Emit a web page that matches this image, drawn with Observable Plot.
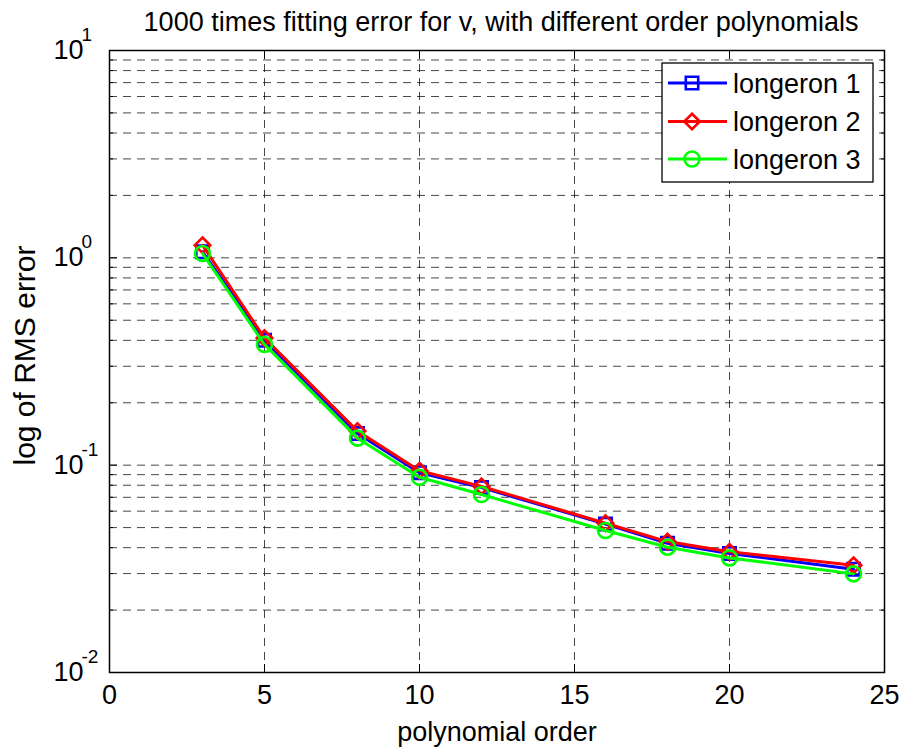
<!DOCTYPE html>
<html><head><meta charset="utf-8">
<script src="https://cdn.jsdelivr.net/npm/d3@7"></script>
<script src="https://cdn.jsdelivr.net/npm/@observablehq/plot@0.6"></script>
<style>
body{margin:0;background:#fff;}
#chart{position:relative;width:906px;height:751px;}
#legend{position:absolute;left:0;top:0;}
</style></head><body><div id="chart"></div>
<script>
// ---- data ----
const orders = [3, 5, 8, 10, 12, 16, 18, 20, 24];
const longeron1 = [1.07, 0.40, 0.142, 0.092, 0.078, 0.052, 0.042, 0.0375, 0.0315];
const longeron2 = [1.15, 0.41, 0.146, 0.094, 0.079, 0.0525, 0.0428, 0.0382, 0.0329];
const longeron3 = [1.05, 0.382, 0.135, 0.0874, 0.0722, 0.0484, 0.0402, 0.0357, 0.0299];
const seriesNames = ["longeron 1", "longeron 2", "longeron 3"];
const seriesColors = ["#0000ff", "#ff0000", "#00ff00"];
const seriesSymbols = ["square", "diamond2", "circle"];
const xTicks = [0, 5, 10, 15, 20, 25];
const xGrid = [5, 10, 15, 20];
const yMajor = [0.01, 0.1, 1, 10];
const yExponents = ["-2", "-1", "0", "1"];
const mantissas = [2, 3, 4, 5, 6, 7, 8, 9];
const titleText = "1000 times fitting error for v, with different order polynomials";
const xLabel = "polynomial order";
const yLabel = "log of RMS error";

const yMinor = [0.01, 0.1, 1].flatMap(d => mantissas.map(m => m * d));
const yGrid = yMajor.slice(1, 3).concat(yMinor);
const seriesValues = [longeron1, longeron2, longeron3];
const rows = seriesValues.map((vals, s) => orders.map((o, i) => ({order: o, rms: vals[i], series: seriesNames[s]})));

const font = "'Liberation Sans', Arial, Helvetica, sans-serif";
const fs = 27;
const gridStyle = {stroke: "#000", strokeOpacity: 0.72, strokeWidth: 1, strokeDasharray: "8,6"};

const seriesMarks = rows.flatMap((r, s) => [
  Plot.line(r, {x: "order", y: "rms", stroke: seriesColors[s], strokeWidth: 3}),
  Plot.dot(r, {x: "order", y: "rms", stroke: seriesColors[s], symbol: seriesSymbols[s], r: s === 2 ? 7.5 : 7, strokeWidth: 2.6, fill: "none"})
]);

const chart = Plot.plot({
  width: 906, height: 751,
  marginTop: 50, marginLeft: 109, marginRight: 22, marginBottom: 79,
  style: {fontFamily: font, fontSize: fs + "px", color: "#000", background: "#fff"},
  x: {domain: [0, 25]},
  y: {type: "log", domain: [0.01, 10]},
  marks: [
    Plot.gridY(yGrid, gridStyle),
    Plot.gridX(xGrid, gridStyle),
    ...seriesMarks,
    Plot.frame({stroke: "#000", strokeWidth: 1.5}),
    Plot.axisX(xTicks, {anchor: "bottom", tickSize: -8, tickPadding: 20, label: null, fontSize: fs}),
    Plot.axisX(xTicks, {anchor: "top", tickSize: -8, tickFormat: () => "", label: null}),
    Plot.axisY(yMajor, {anchor: "left", tickSize: -8, tickPadding: 64, textAnchor: "start",
      tickFormat: d => "10^" + yExponents[yMajor.indexOf(d)], label: null, fontSize: fs}),
    Plot.axisY(yMinor, {anchor: "left", tickSize: -4, tickFormat: () => "", label: null}),
    Plot.axisY(yMajor, {anchor: "right", tickSize: -8, tickFormat: () => "", label: null}),
    Plot.axisY(yMinor, {anchor: "right", tickSize: -4, tickFormat: () => "", label: null}),
    Plot.text([titleText], {frameAnchor: "top", dx: 4, dy: -20, lineAnchor: "bottom", textAnchor: "middle", fontSize: fs}),
    Plot.text([xLabel], {frameAnchor: "bottom", dy: 68, lineAnchor: "bottom", textAnchor: "middle", fontSize: fs}),
    Plot.text([yLabel], {frameAnchor: "left", dx: -75, dy: -6, rotate: -90, lineAnchor: "bottom", textAnchor: "middle", fontSize: 30})
  ]
});
document.getElementById("chart").appendChild(chart);

// superscript exponents on y tick labels
d3.select(chart).selectAll("text").each(function() {
  const t = this.textContent;
  if (t.startsWith("10^")) {
    const exp = t.slice(3);
    const sel = d3.select(this);
    sel.text("10");
    sel.append("tspan").attr("dx", -2).attr("dy", -18).attr("font-size", 19).text(exp);
  }
});

// legend (inside plot, upper right)
const lg = {x0: 662, x1: 873, y0: 63, y1: 182, rowY: [83, 121.5, 159], lineX0: 668, lineX1: 727, markX: 692, textX: 733};
const leg = d3.select("#chart").append("svg").attr("id", "legend").attr("width", 906).attr("height", 751)
  .style("font-family", font);
leg.append("rect").attr("x", lg.x0).attr("y", lg.y0).attr("width", lg.x1 - lg.x0).attr("height", lg.y1 - lg.y0)
  .attr("fill", "#fff").attr("stroke", "#000").attr("stroke-width", 1.3);
const symMap = {square: d3.symbolSquare, diamond2: d3.symbolDiamond2, circle: d3.symbolCircle};
seriesNames.forEach((name, i) => {
  const y = lg.rowY[i];
  leg.append("line").attr("x1", lg.lineX0).attr("x2", lg.lineX1).attr("y1", y).attr("y2", y)
    .attr("stroke", seriesColors[i]).attr("stroke-width", 3);
  const r = i === 2 ? 7.5 : 7;
  leg.append("path").attr("d", d3.symbol(symMap[seriesSymbols[i]], Math.PI * r * r)())
    .attr("transform", `translate(${lg.markX},${y})`).attr("fill", "none")
    .attr("stroke", seriesColors[i]).attr("stroke-width", 2.6);
  leg.append("text").attr("x", lg.textX).attr("y", y + 9.5).attr("font-size", fs).attr("fill", "#000").text(name);
});
</script>
</body></html>
